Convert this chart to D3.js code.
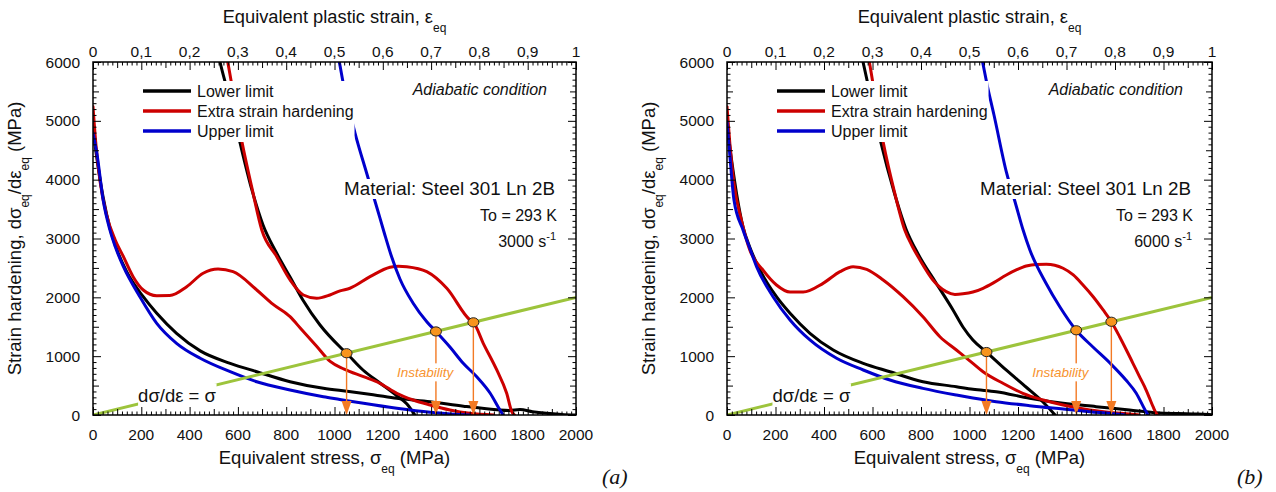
<!DOCTYPE html>
<html><head><meta charset="utf-8">
<script src="https://cdn.jsdelivr.net/npm/d3@7"></script>
<style>
body{margin:0;background:#fff;}
svg text{font-family:"Liberation Sans",Arial,sans-serif;fill:#111;}
</style>
</head><body>
<svg id="chart" width="1276" height="492"></svg>
<script>
// ---------- axes / categories ----------
const strainTicks = [0,0.1,0.2,0.3,0.4,0.5,0.6,0.7,0.8,0.9,1];
const strainTickLabels = ["0","0,1","0,2","0,3","0,4","0,5","0,6","0,7","0,8","0,9","1"];
const stressTicks = [0,200,400,600,800,1000,1200,1400,1600,1800,2000];
const hardeningTicks = [0,1000,2000,3000,4000,5000,6000];
const seriesNames = ["Lower limit","Extra strain hardening","Upper limit"];
const seriesColors = ["#000000","#cc0000","#0000cc"];
const considereLine = [[0,0],[2000,2000]];

// ---------- panel (a) 3000 s-1 ----------
// hardening vs equivalent plastic strain (top axis)
const aLowerVsStrain = [[0,4850],[0.01,4250],[0.021,3700],[0.035,3180],[0.05,2800],[0.07,2430],[0.104,2011],[0.132,1729],[0.173,1389],[0.222,1090],[0.284,878],[0.339,736],[0.408,566],[0.477,453],[0.53,400],[0.58,345],[0.629,284],[0.698,227],[0.767,150],[0.836,90],[0.862,78],[0.884,92],[0.91,55],[0.939,28],[0.97,10],[1.0,0]];
const aExtraVsStrain = [[0,5240],[0.006,4600],[0.015,3950],[0.028,3400],[0.046,2975],[0.063,2691],[0.083,2351],[0.104,2125],[0.132,2028],[0.159,2030],[0.194,2181],[0.228,2409],[0.259,2480],[0.29,2436],[0.339,2125],[0.373,1880],[0.408,1671],[0.429,1480],[0.463,1170],[0.491,910],[0.52,780],[0.56,651],[0.594,539],[0.629,369],[0.663,255],[0.698,170],[0.739,85],[0.78,28],[0.83,0]];
const aUpperVsStrain = [[0,4790],[0.008,4450],[0.021,3654],[0.035,3145],[0.046,2862],[0.063,2521],[0.097,2011],[0.132,1558],[0.173,1219],[0.222,964],[0.284,736],[0.339,566],[0.408,425],[0.477,311],[0.511,265],[0.56,198],[0.629,113],[0.698,45],[0.74,18],[0.78,0]];
// hardening vs equivalent stress (bottom axis)
const aLowerVsStress = [[505,6400],[526,6000],[567,5354],[609,4623],[658,3825],[704,3230],[758,2770],[816,2345],[869,1955],[940,1530],[1023,1156],[1050,1050],[1118,765],[1188,544],[1259,323],[1300,187],[1333,0]];
const aExtraVsStress = [[540,6400],[558,6000],[618,4618],[658,3860],[699,3145],[761,2691],[816,2295],[871,2040],[926,1984],[981,2040],[1023,2110],[1064,2154],[1147,2351],[1230,2511],[1265,2530],[1299,2521],[1382,2436],[1465,2154],[1561,1615],[1575,1575],[1616,1219],[1672,765],[1713,369],[1734,57],[1745,0]];
const aUpperVsStress = [[1010,6200],[1020,6000],[1036,5643],[1085,4793],[1133,4114],[1176,3519],[1205,3111],[1234,2720],[1271,2312],[1325,1904],[1383,1581],[1420,1420],[1478,1156],[1532,884],[1590,646],[1644,374],[1685,85],[1698,0]];
const aInstability = [1050,1420,1575];

// ---------- panel (b) 6000 s-1 ----------
const bLowerVsStrain = [[0,4950],[0.01,4300],[0.02,3750],[0.033,3200],[0.047,2850],[0.068,2465],[0.102,2011],[0.13,1729],[0.171,1389],[0.219,1105],[0.281,878],[0.336,736],[0.404,566],[0.473,481],[0.507,437],[0.555,396],[0.624,284],[0.693,198],[0.761,142],[0.83,85],[0.885,40],[0.93,25],[0.968,17],[1.0,5]];
const bExtraVsStrain = [[0,5240],[0.006,4600],[0.015,3900],[0.03,3300],[0.047,2805],[0.074,2465],[0.102,2210],[0.13,2090],[0.157,2090],[0.198,2238],[0.233,2436],[0.26,2521],[0.288,2476],[0.322,2295],[0.363,2011],[0.404,1671],[0.439,1331],[0.473,1105],[0.507,878],[0.528,736],[0.569,539],[0.61,369],[0.652,255],[0.693,170],[0.748,85],[0.796,40],[0.83,17],[0.85,0]];
const bUpperVsStrain = [[0,4985],[0.005,4500],[0.0144,3654],[0.033,3145],[0.047,2833],[0.061,2521],[0.095,2011],[0.13,1615],[0.171,1275],[0.226,964],[0.281,765],[0.336,595],[0.404,453],[0.473,340],[0.507,290],[0.555,227],[0.624,159],[0.693,102],[0.748,57],[0.803,17],[0.82,0]];
const bLowerVsStress = [[540,6400],[561,6000],[598,5303],[635,4624],[689,3791],[738,3162],[788,2737],[862,2244],[932,1785],[973,1496],[1014,1275],[1070,1070],[1151,765],[1233,476],[1303,221],[1353,0]];
const bExtraVsStress = [[570,6350],[587,6000],[615,5300],[645,4618],[690,3800],[733,3145],[765,2860],[795,2640],[849,2295],[904,2096],[940,2050],[973,2060],[1014,2090],[1056,2154],[1100,2250],[1152,2380],[1195,2470],[1234,2533],[1275,2560],[1317,2562],[1386,2494],[1428,2380],[1468,2210],[1510,2010],[1551,1785],[1585,1585],[1619,1331],[1650,1080],[1674,879],[1700,660],[1722,481],[1742,290],[1757,141],[1770,29],[1775,0]];
const bUpperVsStress = [[1045,6200],[1054,6000],[1072,5626],[1101,5099],[1153,4114],[1188,3621],[1221,3145],[1249,2805],[1315,2244],[1373,1836],[1440,1440],[1509,1156],[1579,884],[1645,595],[1687,374],[1724,85],[1736,0]];
const bInstability = [1070,1440,1585];

// ---------- drawing ----------
const svg = d3.select('#chart');
const GREEN = "#9dc43c", ORANGE = "#f37a24", DOTFILL = "#f7941d", LABELORANGE = "#f7932f";

const panels = [
  {id:"a", x0:93, x1:576, rate:"3000", tag:"(a)", tagX:602,
   curves:[[aLowerVsStrain,"strain",0],[aLowerVsStress,"stress",0],[aExtraVsStrain,"strain",1],[aExtraVsStress,"stress",1],[aUpperVsStrain,"strain",2],[aUpperVsStress,"stress",2]],
   inst:aInstability},
  {id:"b", x0:727, x1:1212, rate:"6000", tag:"(b)", tagX:1237,
   curves:[[bLowerVsStrain,"strain",0],[bLowerVsStress,"stress",0],[bExtraVsStrain,"strain",1],[bExtraVsStress,"stress",1],[bUpperVsStrain,"strain",2],[bUpperVsStress,"stress",2]],
   inst:bInstability}
];

function whiteBox(parent, textSel, pad){
  const bb = textSel.node().getBBox();
  parent.insert('rect', () => textSel.node())
    .attr('x', bb.x - pad[0]).attr('y', bb.y - pad[1])
    .attr('width', bb.width + 2*pad[0]).attr('height', bb.height + pad[1] + pad[2])
    .attr('fill', '#fff');
}

function drawPanel(p){
  const X0 = p.x0, X1 = p.x1, Y0 = 62, Y1 = 415;
  const xStress = d3.scaleLinear().domain([0,2000]).range([X0,X1]);
  const xStrain = d3.scaleLinear().domain([0,1]).range([X0,X1]);
  const y = d3.scaleLinear().domain([0,6000]).range([Y1,Y0]);
  const g = svg.append('g');
  const cid = 'clip-' + p.id;
  g.append('clipPath').attr('id', cid).append('rect')
    .attr('x', X0).attr('y', Y0).attr('width', X1-X0).attr('height', Y1-Y0);
  const plot = g.append('g').attr('clip-path', `url(#${cid})`);
  const lineGen = xs => d3.line().x(d => xs(d[0])).y(d => y(d[1])).curve(d3.curveMonotoneX);

  p.curves.forEach(([data, vs, s]) => {
    plot.append('path').datum(data)
      .attr('d', lineGen(vs === 'strain' ? xStrain : xStress))
      .attr('fill','none').attr('stroke', seriesColors[s]).attr('stroke-width', 3)
      .attr('stroke-linejoin','round').attr('stroke-linecap','round');
  });
  plot.append('path').datum(considereLine).attr('d', lineGen(xStress))
    .attr('fill','none').attr('stroke', GREEN).attr('stroke-width', 3);

  // instability arrows
  p.inst.forEach(v => {
    const x = xStress(v), yy = y(v);
    plot.append('line').attr('x1', x).attr('x2', x).attr('y1', yy + 4).attr('y2', Y1 - 12)
      .attr('stroke', ORANGE).attr('stroke-width', 1.4);
    plot.append('path').attr('d', `M${x-5},${Y1-14}L${x+5},${Y1-14}L${x},${Y1}Z`).attr('fill', ORANGE);
  });
  p.inst.forEach(v => {
    plot.append('ellipse').attr('cx', xStress(v)).attr('cy', y(v)).attr('rx', 5.5).attr('ry', 4.6)
      .attr('fill', DOTFILL).attr('stroke', '#222').attr('stroke-width', 1);
  });

  // "Instability" label
  const ig = g.append('g');
  const it = ig.append('text').attr('x', xStress(1375)).attr('y', y(640)).attr('text-anchor','middle')
    .attr('font-size', 13.5).attr('font-style','italic').style('fill', LABELORANGE).text('Instability');
  whiteBox(ig, it, [1,2,1]);

  // dσ/dε = σ label
  const lg = g.append('g');
  const lt = lg.append('text').attr('x', xStress(348)).attr('y', y(215)).attr('text-anchor','middle')
    .attr('font-size', 18.5).text('dσ/dε = σ');
  whiteBox(lg, lt, [0,2,0]);

  // legend
  const leg = g.append('g');
  const legRect = leg.append('rect').attr('fill','#fff');
  const legY = [91,111,131];
  let maxR = 0;
  seriesNames.forEach((n,i) => {
    leg.append('line').attr('x1', X0+50).attr('x2', X0+98).attr('y1', legY[i]).attr('y2', legY[i])
      .attr('stroke', seriesColors[i]).attr('stroke-width', 3.5);
    const t = leg.append('text').attr('x', X0+104).attr('y', legY[i]+5.5).attr('font-size', 16).text(n);
    const bb = t.node().getBBox(); maxR = Math.max(maxR, bb.x + bb.width);
  });
  legRect.attr('x', X0+46).attr('y', 81).attr('width', maxR + 1 - (X0+46)).attr('height', 61);

  // annotations
  g.append('text').attr('x', X1-29).attr('y', 95).attr('text-anchor','end').attr('font-size', 16)
    .attr('font-style','italic').text('Adiabatic condition');
  const mg = g.append('g');
  const mt = mg.append('text').attr('x', X1-21).attr('y', 195).attr('text-anchor','end').attr('font-size', 18.8)
    .text('Material: Steel 301 Ln 2B');
  whiteBox(mg, mt, [1,-1,0]);
  g.append('text').attr('x', X1-19).attr('y', 221).attr('text-anchor','end').attr('font-size', 16).text('To = 293 K');
  const rt = g.append('text').attr('x', X1-20).attr('y', 247).attr('text-anchor','end').attr('font-size', 16);
  rt.append('tspan').text(p.rate + ' s');
  rt.append('tspan').attr('dy', -7).attr('font-size', 11).text('-1');

  // axes ticks (inside)
  const tickAxis = (gen, pos, vals, size) => {
    const a = g.append('g').attr('transform', pos)
      .call(gen.tickValues(vals).tickSize(size).tickFormat(''));
    a.select('.domain').remove();
    a.selectAll('line').attr('stroke','#000').attr('stroke-width',1);
  };
  const stressMinor = d3.range(20,2000,20).filter(v => v % 100 !== 0);
  const stressMid = d3.range(100,2000,200);
  const strainMinor = d3.range(1,100).filter(v => v % 5 !== 0).map(v => v/100);
  const strainMid = d3.range(5,100,10).map(v => v/100);
  const hMinor = d3.range(100,6000,100).filter(v => v % 500 !== 0);
  const hMid = d3.range(500,6000,1000);
  tickAxis(d3.axisBottom(xStress), `translate(0,${Y1})`, stressTicks, -8);
  tickAxis(d3.axisBottom(xStress), `translate(0,${Y1})`, stressMid, -6);
  tickAxis(d3.axisBottom(xStress), `translate(0,${Y1})`, stressMinor, -3.5);
  tickAxis(d3.axisTop(xStrain), `translate(0,${Y0})`, strainTicks, -8);
  tickAxis(d3.axisTop(xStrain), `translate(0,${Y0})`, strainMid, -6);
  tickAxis(d3.axisTop(xStrain), `translate(0,${Y0})`, strainMinor, -3.5);
  [[d3.axisLeft, X0],[d3.axisRight, X1]].forEach(([ax, xp]) => {
    tickAxis(ax(y), `translate(${xp},0)`, hardeningTicks, -8);
    tickAxis(ax(y), `translate(${xp},0)`, hMid, -6);
    tickAxis(ax(y), `translate(${xp},0)`, hMinor, -3.5);
  });
  g.append('rect').attr('x', X0).attr('y', Y0).attr('width', X1-X0).attr('height', Y1-Y0)
    .attr('fill','none').attr('stroke','#000').attr('stroke-width',1.5);

  // tick labels
  g.selectAll(null).data(stressTicks).enter().append('text')
    .attr('x', d => xStress(d)).attr('y', 440).attr('text-anchor','middle').attr('font-size', 15.5).text(d => d);
  g.selectAll(null).data(strainTicks).enter().append('text')
    .attr('x', d => xStrain(d)).attr('y', 57).attr('text-anchor','middle').attr('font-size', 15.5)
    .text((d,i) => strainTickLabels[i]);
  g.selectAll(null).data(hardeningTicks).enter().append('text')
    .attr('x', X0-13).attr('y', d => y(d) + 5.5).attr('text-anchor','end').attr('font-size', 15.5).text(d => d);

  // axis titles
  const cx = (X0+X1)/2;
  const tt = g.append('text').attr('x', cx).attr('y', 23).attr('text-anchor','middle').attr('font-size', 18.3);
  tt.append('tspan').text('Equivalent plastic strain, ε');
  tt.append('tspan').attr('dy', 9).attr('font-size', 12).text('eq');
  const bt = g.append('text').attr('x', cx).attr('y', 464).attr('text-anchor','middle').attr('font-size', 18.5);
  bt.append('tspan').text('Equivalent stress, σ');
  bt.append('tspan').attr('dy', 9).attr('font-size', 12).text('eq');
  bt.append('tspan').attr('dy', -9).text(' (MPa)');
  const yt = g.append('text').attr('transform', `translate(${X0-72},${(Y0+Y1)/2}) rotate(-90)`)
    .attr('text-anchor','middle').attr('font-size', 18.5);
  yt.append('tspan').text('Strain hardening, dσ');
  yt.append('tspan').attr('dy', 8).attr('font-size', 12).text('eq');
  yt.append('tspan').attr('dy', -8).text('/dε');
  yt.append('tspan').attr('dy', 8).attr('font-size', 12).text('eq');
  yt.append('tspan').attr('dy', -8).text(' (MPa)');

  g.append('text').attr('x', p.tagX).attr('y', 484).attr('font-size', 22).attr('font-style','italic')
    .style('font-family','"Liberation Serif","Times New Roman",serif').text(p.tag);
}

panels.forEach(drawPanel);
</script>
</body></html>
